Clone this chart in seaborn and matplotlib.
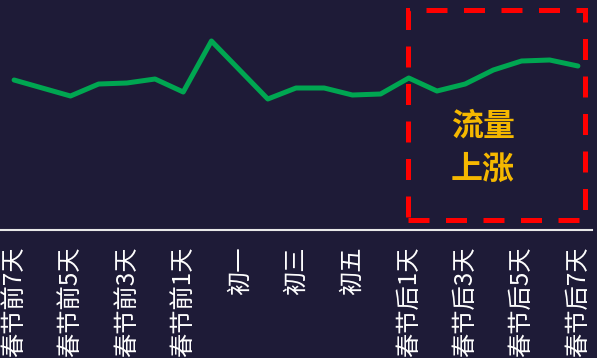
import pandas as pd
import matplotlib
matplotlib.use('Agg')
import matplotlib.pyplot as plt
import matplotlib.patches as patches
import seaborn as sns

# 数据
days = ['春节前7天', '春节前6天', '春节前5天', '春节前4天', '春节前3天', '春节前2天', '春节前1天',
        '除夕', '初一', '初二', '初三', '初四', '初五', '初六',
        '春节后1天', '春节后2天', '春节后3天', '春节后4天', '春节后5天', '春节后6天', '春节后7天']
flow = [150, 142, 134, 146, 147, 151, 138,
        189, 160, 131, 142, 142, 135, 136,
        152, 139, 146, 160, 169, 170, 164]
tick_labels = days[::2]
note = '流量\n上涨'

bg = '#1e1b37'
sns.set_style('dark')
plt.rcParams['font.family'] = ['Noto Sans CJK SC', 'DejaVu Sans']

df = pd.DataFrame({'日期': days, '流量': flow})
df['x'] = range(len(df))

fig = plt.figure(figsize=(5.97, 3.58), dpi=100, facecolor=bg)
ax = fig.add_axes([0, 0.3575, 592 / 597, 0.6425])
ax.set_facecolor(bg)

sns.lineplot(data=df, x='x', y='流量', color='#00a651', linewidth=3.6, ax=ax)

ax.set_xlim(-0.5, 20.5)
ax.set_ylim(0, 230)
ax.set_xticks(df['x'][::2])
ax.set_xticklabels(tick_labels, rotation=90, color='white', fontsize=17.5)
ax.tick_params(axis='x', length=0, pad=12)
ax.set_yticks([])
ax.set_xlabel('')
ax.set_ylabel('')
ax.grid(False)
for s in ['left', 'right', 'top']:
    ax.spines[s].set_visible(False)
ax.spines['bottom'].set_color('#e8e8e8')
ax.spines['bottom'].set_linewidth(1.5)

# 红色虚线框
box = patches.Rectangle((0.689, 0.043), 0.299, 0.914, transform=ax.transAxes,
                        fill=False, edgecolor='#ff0000', linewidth=3.6,
                        linestyle=(0, (4.2, 3.3)), clip_on=False)
ax.add_patch(box)
ax.text(0.816, 0.355, note, transform=ax.transAxes, ha='center', va='center',
        color='#f5b800', fontsize=23, fontweight='bold', linespacing=1.45)

fig.savefig('out.png', dpi=100, facecolor=bg)
